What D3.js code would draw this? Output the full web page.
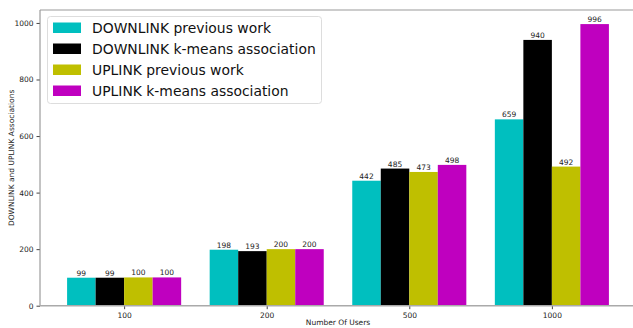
<!DOCTYPE html>
<html><head><meta charset="utf-8">
<script src="https://cdn.jsdelivr.net/npm/d3@7"></script>
<style>body{margin:0;background:#fff}svg{display:block;font-family:"DejaVu Sans",sans-serif}</style>
</head><body><svg id="c" width="633" height="328"></svg>
<script>
const categories = ["100","200","500","1000"];
const seriesNames = ["DOWNLINK previous work","DOWNLINK k-means association","UPLINK previous work","UPLINK k-means association"];
const dlPrev = [99,198,442,659];
const dlKmeans = [99,193,485,940];
const ulPrev = [100,200,473,492];
const ulKmeans = [100,200,498,996];
const yTicks = [0,200,400,600,800,1000];
const colors = ["#00bfbf","#000000","#bfbf00","#bf00bf"];
const series = [dlPrev, dlKmeans, ulPrev, ulKmeans];

const svg = d3.select("#c");
const L=40, R=636, T=10, B=305.7;
const bw = 0.2;
const x = d3.scaleLinear().domain([-0.4-0.19, 3.4+0.19]).range([L,R]);
const y = d3.scaleLinear().domain([0, 996*1.05]).range([B,T]);

// bars
series.forEach((vals,si)=>{
  const off = -0.4 + si*bw;
  const g = svg.append("g");
  g.selectAll("rect").data(vals).join("rect")
    .attr("x",(d,i)=>x(i+off))
    .attr("width",(d,i)=>x(i+off+bw)-x(i+off))
    .attr("y",d=>y(d))
    .attr("height",d=>B-y(d))
    .attr("fill",colors[si]);
  g.selectAll("text").data(vals).join("text")
    .attr("x",(d,i)=>x(i+off+bw/2))
    .attr("y",d=>y(d)-2)
    .attr("text-anchor","middle")
    .attr("font-size","7.5px")
    .attr("fill","#222")
    .text(d=>d);
});

// axes
const ya = svg.append("g").attr("transform",`translate(${L},0)`)
  .call(d3.axisLeft(y).tickValues(yTicks).tickFormat(d3.format("d")).tickSize(3.5).tickPadding(3));
ya.select(".domain").remove();
ya.selectAll("text").attr("font-size","7.5px").attr("fill","#222").attr("font-family","DejaVu Sans");
ya.selectAll("line").attr("stroke","#444");

const xa = svg.append("g").attr("transform",`translate(0,${B})`)
  .call(d3.axisBottom(x).tickValues([0,1,2,3]).tickFormat(i=>categories[i]).tickSize(3.5).tickPadding(3));
xa.select(".domain").remove();
xa.selectAll("text").attr("font-size","7.5px").attr("fill","#222").attr("font-family","DejaVu Sans");
xa.selectAll("line").attr("stroke","#444");

// spines
svg.append("line").attr("x1",L).attr("x2",L).attr("y1",T).attr("y2",B).attr("stroke","#888").attr("stroke-width",1);
svg.append("line").attr("x1",L).attr("x2",R).attr("y1",B).attr("y2",B).attr("stroke","#aaa").attr("stroke-width",1.5);
svg.append("line").attr("x1",L).attr("x2",R).attr("y1",T).attr("y2",T).attr("stroke","#999").attr("stroke-width",1);

// axis labels
svg.append("text").attr("x",(L+R)/2).attr("y",325).attr("text-anchor","middle")
  .attr("font-size","7.5px").attr("fill","#222").text("Number Of Users");
svg.append("text").attr("transform",`translate(14,${(T+B)/2}) rotate(-90)`).attr("text-anchor","middle")
  .attr("font-size","7.5px").attr("fill","#222").text("DOWNLINK and UPLINK Associations");

// legend
const lg = svg.append("g");
lg.append("rect").attr("x",47.5).attr("y",16.5).attr("width",274).attr("height",87).attr("rx",3)
  .attr("fill","#fff").attr("fill-opacity",0.8).attr("stroke","#ddd");
seriesNames.forEach((n,i)=>{
  const cy = 28 + i*21;
  lg.append("rect").attr("x",53).attr("y",cy-5.5).attr("width",28).attr("height",10.5).attr("fill",colors[i]);
  lg.append("text").attr("x",92).attr("y",cy+5.3).attr("font-size","13.9px").attr("fill","#111").text(n);
});
</script></body></html>
